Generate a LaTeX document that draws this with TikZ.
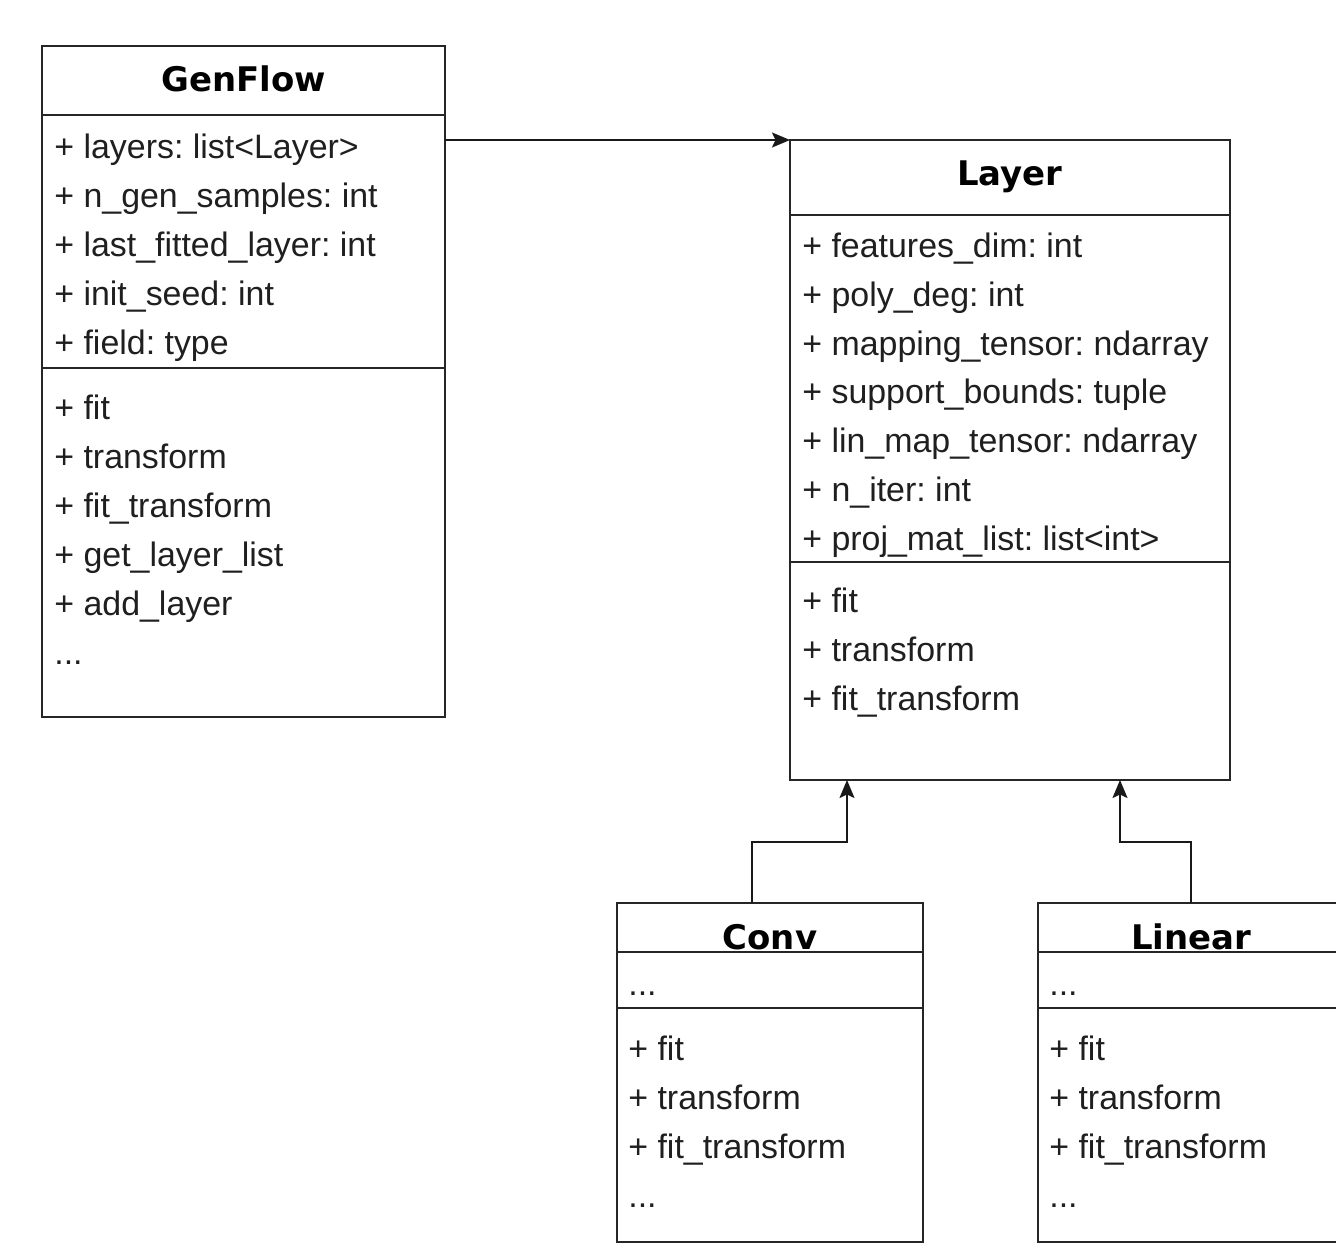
\documentclass[tikz,border=0pt]{standalone}
\usepackage{fontspec}
\setmainfont{Liberation Sans}
\newfontfamily\titlefont{DejaVu Sans}
\usetikzlibrary{positioning, arrows.meta, calc}
\newcommand\moreitems{...}
\frenchspacing

\begin{document}
\begin{tikzpicture}[
  >={Stealth[length=0.36cm, width=0.3cm, inset=0.07cm]},
  every node/.style={font=\fontsize{19.3}{23}\selectfont},
  part/.style  = {rectangle, draw=black!85, line width=1pt, outer sep=0pt, inner sep=0pt},
  cname/.style = {font=\titlefont\bfseries\fontsize{19.3}{23}\selectfont, anchor=base, inner sep=0pt},
  item/.style  = {anchor=base west, inner sep=0pt, text=black!88},
  arr/.style   = {->, line width=1pt, black!90},
]
  \useasboundingbox (0,0) rectangle (26.72,-25.16);

  % GenFlow
  \node[part, minimum width=8.06cm, minimum height=1.38cm, anchor=north west] (genhead) at (0.84,-0.92) {};
  \node[part, minimum width=8.06cm, minimum height=5.06cm, below=0pt of genhead] (genattr) {};
  \node[part, minimum width=8.06cm, minimum height=6.98cm, below=0pt of genattr] (genops)  {};
  \node[cname] (genname) at ($(genhead.north)+(0,-0.9)$) {GenFlow};
  \foreach \t [count=\i] in {+ layers: list<Layer>, + n\_gen\_samples: int, + last\_fitted\_layer: int, + init\_seed: int, + field: type}
    \node[item] (gena\i) at ($(genattr.north west)+(0.24,{-0.87-0.98*(\i-1)})$) {\t};
  \foreach \t [count=\i] in {+ fit, + transform, + fit\_transform, + get\_layer\_list, + add\_layer, \moreitems}
    \node[item] (geno\i) at ($(genops.north west)+(0.24,{-1.02-0.98*(\i-1)})$) {\t};

  % Layer
  \node[part, minimum width=8.8cm, minimum height=1.5cm, anchor=north west] (layhead) at (15.8,-2.8) {};
  \node[part, minimum width=8.8cm, minimum height=6.94cm, below=0pt of layhead] (layattr) {};
  \node[part, minimum width=8.8cm, minimum height=4.36cm, below=0pt of layattr] (layops)  {};
  \node[cname] (layname) at ($(layhead.north)+(0,-0.9)$) {Layer};
  \foreach \t [count=\i] in {+ features\_dim: int, + poly\_deg: int, + mapping\_tensor: ndarray, + support\_bounds: tuple, + lin\_map\_tensor: ndarray, + n\_iter: int, + proj\_mat\_list: list<int>}
    \node[item] (laya\i) at ($(layattr.north west)+(0.24,{-0.85-0.975*(\i-1)})$) {\t};
  \foreach \t [count=\i] in {+ fit, + transform, + fit\_transform}
    \node[item] (layo\i) at ($(layops.north west)+(0.24,{-1.0-0.98*(\i-1)})$) {\t};

  % Conv and Linear
  \foreach \c/\x/\n in {conv/12.34/Conv, lin/20.76/Linear}{
    \node[part, minimum width=6.12cm, minimum height=0.98cm, anchor=north west] (\c head) at (\x,-18.06) {};
    \node[part, minimum width=6.12cm, minimum height=1.12cm, below=0pt of \c head] (\c attr) {};
    \node[part, minimum width=6.12cm, minimum height=4.68cm, below=0pt of \c attr] (\c ops)  {};
    \node[cname] (\c name) at ($(\c head.north)+(0,-0.92)$) {\n};
    \node[item] (\c a1) at ($(\c attr.north west)+(0.22,-0.86)$) {\moreitems};
    \foreach \t [count=\i] in {+ fit, + transform, + fit\_transform, \moreitems}
      \node[item] (\c o\i) at ($(\c ops.north west)+(0.22,{-1.04-0.98*(\i-1)})$) {\t};
  }

  \draw[arr] (genattr.east |- layhead.north) -- (layhead.north west);
  \draw[arr] ([xshift=-0.36cm]convhead.north) -- ++(0,1.22) -| ([xshift=1.14cm]layops.south west);
  \draw[arr] (linhead.north) -- ++(0,1.22) -| ([xshift=6.6cm]layops.south west);
\end{tikzpicture}
\end{document}
